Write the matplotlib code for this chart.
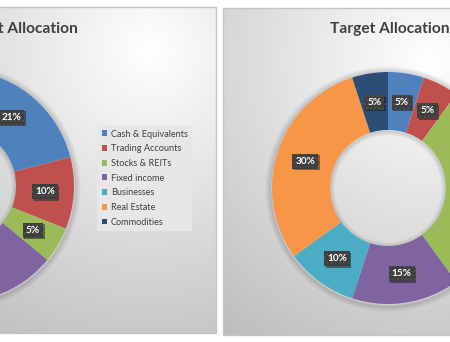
import numpy as np
import matplotlib.pyplot as plt
import matplotlib.patheffects as pe
from matplotlib.patches import Rectangle, Circle

plt.rcParams['font.family'] = ['Lato', 'DejaVu Sans']

categories = ['Cash & Equivalents', 'Trading Accounts', 'Stocks & REITs',
              'Fixed income', 'Businesses', 'Real Estate', 'Commodities']
current_pct = [21, 10, 5, 25, 10, 25, 4]
target_pct = [5, 5, 30, 15, 10, 30, 5]
colors = ['#4F81BD', '#C0504D', '#9BBB59', '#8064A2', '#4BACC6', '#F79646', '#2C4D75']

W, H = 450, 342
fig = plt.figure(figsize=(4.5, 3.42), dpi=100)
ax = fig.add_axes([0, 0, 1, 1])


def panel(x0, x1, ytop, ybot, light):
    # soft grey gradient background, like the excel chart area
    xs = np.linspace(x0, x1, 300)
    ys = np.linspace(ytop, ybot, 300)
    X, Y = np.meshgrid(xs, ys)
    d = np.hypot(X - light[0], Y - light[1])
    v = np.clip(1 - 0.24 * d / 318, 0.74, 1)
    img = np.dstack([v, v, v])
    ax.imshow(img, extent=(x0, x1, H - ybot, H - ytop), origin='upper',
              zorder=0, interpolation='bilinear')
    ax.add_patch(Rectangle((x0, H - ybot), x1 - x0, ybot - ytop, fill=False,
                           ec='#c4c4c4', lw=1, zorder=1))


def donut(vals, cx, cy, R=116):
    cy = H - cy
    r = R * 0.5
    # soft shadow outside the ring
    for k in range(6):
        ax.add_patch(Circle((cx, cy - 1), R + 1 + k, fill=False, ec='k', lw=1.3,
                            alpha=0.016 * (6 - k), zorder=2))
    wedges, _, autotexts = ax.pie(vals, colors=colors, startangle=90, counterclock=False,
                                  radius=R, center=(cx, cy),
                                  wedgeprops=dict(width=R - r, edgecolor='none'),
                                  autopct=lambda p: f'{p:.0f}%', pctdistance=0.75)
    for w in wedges:
        w.set_zorder(3)
    # shadow inside the hole
    for k in range(5):
        ax.add_patch(Circle((cx, cy - 1), r - k, fill=False, ec='k', lw=1.2,
                            alpha=0.02 * (5 - k), zorder=2))
    for t in autotexts:
        # labels of slices that fall outside the screenshot are not shown
        if not 0 < t.get_position()[0] < W:
            t.set_visible(False)
            continue
        t.set_color('white')
        t.set_fontweight('bold')
        t.set_fontsize(7.2)
        t.set_zorder(5)
        t.set_bbox(dict(boxstyle='square,pad=0.3', fc='#3d3d3d', ec='#505050',
                        lw=0, hatch='....'))
        t.get_bbox_patch().set_path_effects([
            pe.withSimplePatchShadow(offset=(1.2, -1.2), shadow_rgbFace='k', alpha=0.4),
            pe.Normal()])
    return wedges


panel(-10, 216, 7, 333, (150, 50))
panel(223, 470, 8, 335, (430, 60))

wedges = donut(current_pct, -42, 186)
donut(target_pct, 388, 188)

ax.text(78, H - 33, 'Current Allocation', ha='right', va='baseline', fontsize=11.2,
        fontweight='bold', color='#404040', zorder=6)
ax.text(330, H - 33, 'Target Allocation', ha='left', va='baseline', fontsize=11.2,
        fontweight='bold', color='#404040', zorder=6)

leg = ax.legend(wedges, categories, loc='upper left', bbox_to_anchor=(97 / W, 1 - 125 / H),
                fontsize=6.6, frameon=True, fancybox=False, framealpha=1,
                facecolor='#e7e7e7', edgecolor='none', handlelength=0.6, handleheight=0.6,
                handletextpad=0.4, labelspacing=0.62, borderpad=0.5, borderaxespad=0)
for t in leg.get_texts():
    t.set_color('#404040')
leg.set_zorder(6)

ax.set_xlim(0, W)
ax.set_ylim(0, H)
ax.set_aspect('equal')
ax.axis('off')

fig.savefig('out.png', dpi=100)
